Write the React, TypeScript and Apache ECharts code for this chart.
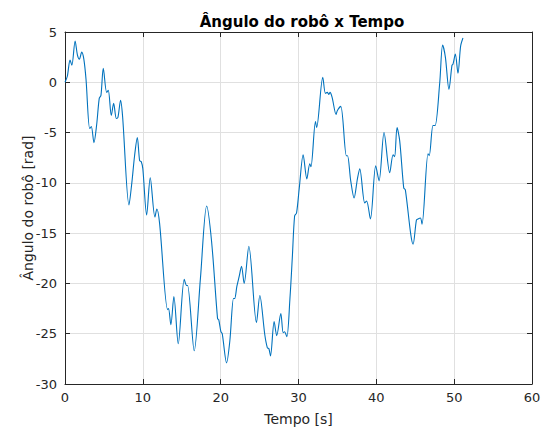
import React, { useEffect, useRef } from "react";
import * as echarts from "echarts";

// Robot heading angle sampled over time: [time (s), angle (rad)]
const timeS: number[] = [
  0, 0.3, 0.65, 0.88, 1.3, 1.6, 1.85, 2.15, 2.42, 2.7, 3.17, 3.38, 3.72, 4.07, 4.4, 4.62, 4.92,
  5.35, 5.56, 5.95, 6.25, 6.6, 6.8, 7.14, 7.4, 8.22, 8.6, 8.94, 9.29, 9.59, 9.8, 10.0, 10.49,
  10.95, 11.55, 11.8, 12.15, 13.18, 13.3, 13.6, 13.99, 14.55, 15.32, 15.62, 15.75, 16.6, 17.4,
  18.2, 18.83, 19.6, 19.75, 20.03, 20.2, 20.76, 21.18, 21.65, 21.8, 22.08, 22.38, 22.68, 23.02,
  23.62, 24.6, 25.03, 25.67, 26.0, 26.2, 26.4, 26.87, 27.2, 27.73, 28.03, 28.2, 28.5, 28.9,
  29.2, 29.5, 29.75, 30.1, 30.6, 31.07, 31.45, 31.6, 32.18, 32.33, 33.12, 33.46, 33.7, 33.9,
  34.05, 34.32, 34.83, 35.0, 35.43, 36.15, 36.3, 36.71, 37.14, 37.57, 37.87, 38.51, 38.75,
  39.24, 39.92, 40.35, 40.99, 41.72, 42.15, 42.35, 42.66, 43.0, 43.52, 43.73, 44.42, 44.72,
  45.15, 45.35, 45.66, 45.87, 46.64, 46.8, 47.28, 47.55, 48.14, 48.52, 48.87, 49.33, 49.72,
  49.85, 50.15, 50.49, 50.83, 51.13,
];
const angleRad: number[] = [
  0, 0.6, 2.2, 1.7, 4.1, 2.7, 2.3, 3.0, 2.3, 0.3, -4.6, -4.4, -6.0, -4.2, -1.6, -1.3, 1.4,
  -1.0, -0.8, -3.3, -2.1, -3.6, -3.5, -1.8, -3.4, -12.2, -9.9, -7.3, -5.5, -7.8, -7.9, -8.6, -13.2,
  -9.5, -13.4, -12.6, -14.0, -22.6, -22.5, -24.1, -21.3, -26.0, -19.6, -20.2, -20.2, -26.7, -19.5,
  -12.3, -15.8, -23.5, -23.6, -24.8, -25.0, -27.9, -25.7, -21.5, -21.5, -20.3, -19.3, -18.3, -20.0,
  -16.3, -23.9, -21.2, -25.1, -26.4, -26.5, -27.2, -23.8, -25.2, -23.0, -24.9, -24.8, -25.3, -21.5,
  -17.5, -13.3, -13.0, -10.5, -7.2, -9.6, -8.1, -8.4, -3.9, -4.5, 0.5, -1.1, -1.0, -1.2,
  -1.0, -1.5, -3.2, -2.8, -2.4, -7.3, -7.3, -9.8, -11.5, -9.6, -8.6, -12.0, -11.8,
  -13.6, -8.3, -9.8, -5.0, -9.0, -7.2, -7.4, -4.5, -5.8, -10.5, -10.7, -15.1, -16.1,
  -13.7, -13.6, -13.5, -14.1, -7.1, -7.3, -4.3, -4.3, -0.1, 3.7, 2.5, -0.7, 1.7,
  1.8, 2.8, 0.9, 3.6, 4.4,
];

const chartTitle = "Ângulo do robô x Tempo";
const xLabel = "Tempo [s]";
const yLabel = "Ângulo do robô [rad]";

const FONT = "DejaVu Sans";
const TEXT = "#262626";
const AXIS = "#262626";
const GRID = "#e0e0e0";

export default function App() {
  const ref = useRef<HTMLDivElement>(null);

  useEffect(() => {
    if (!ref.current) return;
    const chart = echarts.init(ref.current, undefined, { renderer: "svg" });
    const points = timeS.map((t, i) => [t, angleRad[i]]);

    const axisLine = { show: true, onZero: false, lineStyle: { color: AXIS, width: 1 } };
    const axisTick = { show: true, inside: true, length: 5, lineStyle: { color: AXIS } };
    const mirrored = {
      axisLine,
      axisTick,
      axisLabel: { show: false },
      splitLine: { show: false },
    };

    chart.setOption({
      animation: false,
      backgroundColor: "#ffffff",
      title: {
        text: chartTitle,
        left: 297,
        top: 9,
        textAlign: "center",
        textStyle: { fontFamily: FONT, fontSize: 15, fontWeight: "bold", color: "#000" },
      },
      grid: { left: 65, right: 14, top: 32, bottom: 43, containLabel: false },
      xAxis: [
        {
          type: "value",
          min: 0,
          max: 60,
          interval: 10,
          name: xLabel,
          nameLocation: "middle",
          nameGap: 28,
          nameTextStyle: { fontFamily: FONT, fontSize: 14, color: TEXT },
          axisLine,
          axisTick,
          axisLabel: { fontFamily: FONT, fontSize: 13, color: TEXT, margin: 7 },
          splitLine: { show: true, lineStyle: { color: GRID, width: 1 } },
        },
        { type: "value", position: "top", min: 0, max: 60, interval: 10, ...mirrored },
      ],
      yAxis: [
        {
          type: "value",
          min: -30,
          max: 5,
          interval: 5,
          axisLine,
          axisTick,
          axisLabel: { fontFamily: FONT, fontSize: 13, color: TEXT, margin: 8 },
          splitLine: { show: true, lineStyle: { color: GRID, width: 1 } },
        },
        { type: "value", position: "right", min: -30, max: 5, interval: 5, ...mirrored },
      ],
      graphic: [
        {
          type: "text",
          x: 28,
          y: 208,
          rotation: Math.PI / 2,
          style: {
            text: yLabel,
            fontFamily: FONT,
            fontSize: 14,
            fill: TEXT,
            align: "center",
            verticalAlign: "middle",
          },
        },
      ],
      series: [
        {
          type: "line",
          data: points,
          showSymbol: false,
          smooth: 0.3,
          lineStyle: { color: "#0072BD", width: 1.1 },
          xAxisIndex: 0,
          yAxisIndex: 0,
        },
      ],
    });
    return () => chart.dispose();
  }, []);

  return (
    <div
      ref={ref}
      style={{ position: "fixed", left: 0, top: 0, width: 546, height: 431 }}
    />
  );
}
